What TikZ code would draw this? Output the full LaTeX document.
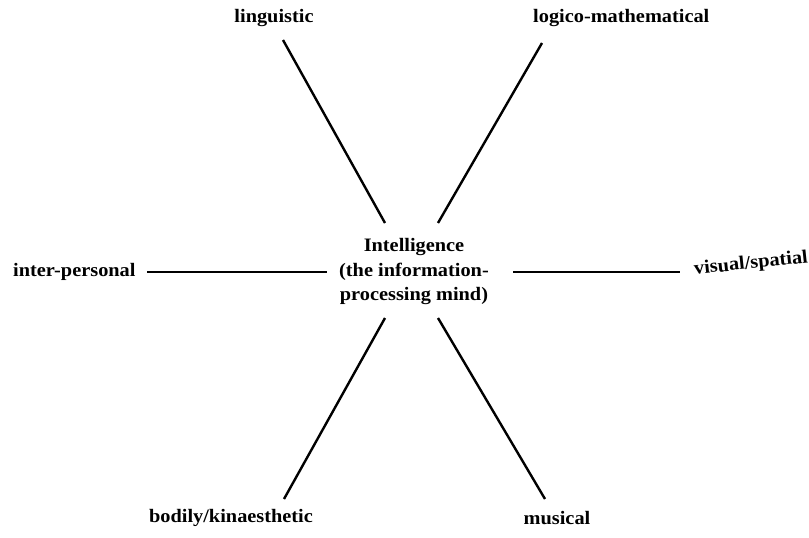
\documentclass[tikz,border=0pt]{standalone}
\usepackage{fontspec}
\setmainfont{Liberation Serif}[FakeStretch=1.07]
\begin{document}
\begin{tikzpicture}[x=1pt,y=-1pt,
  lbl/.style={font=\fontsize{19}{24.5}\selectfont\bfseries, inner sep=0pt, align=center},
  spoke/.style={line width=2.4pt}]
\useasboundingbox (0,0) rectangle (809,538);
\node[lbl] (centre) at (414,272) {Intelligence\\(the information-\\processing mind)};
\node[lbl] (ling) at (274,18) {linguistic};
\node[lbl, anchor=west] (logi) at (533,18) {logico-mathematical};
\node[lbl, anchor=west] (inter) at (13,272) {inter-personal};
\node[lbl, rotate=6] (vis) at (751,264) {visual/spatial};
\node[lbl] (bod) at (231,518) {bodily/kinaesthetic};
\node[lbl] (mus) at (557,518) {musical};
\coordinate (l1) at (283,40); \coordinate (l2) at (385,223);
\coordinate (m1) at (542,43); \coordinate (m2) at (438,223);
\coordinate (i1) at (147,272); \coordinate (i2) at (327,272);
\coordinate (v1) at (513,272); \coordinate (v2) at (680,272);
\coordinate (b1) at (385,318); \coordinate (b2) at (284,499);
\coordinate (u1) at (438,318); \coordinate (u2) at (545,499);
\draw[spoke] (l1) -- (l2);
\draw[spoke] (m1) -- (m2);
\draw[spoke] (i1) -- (i2);
\draw[spoke] (v1) -- (v2);
\draw[spoke] (b1) -- (b2);
\draw[spoke] (u1) -- (u2);
\end{tikzpicture}
\end{document}
